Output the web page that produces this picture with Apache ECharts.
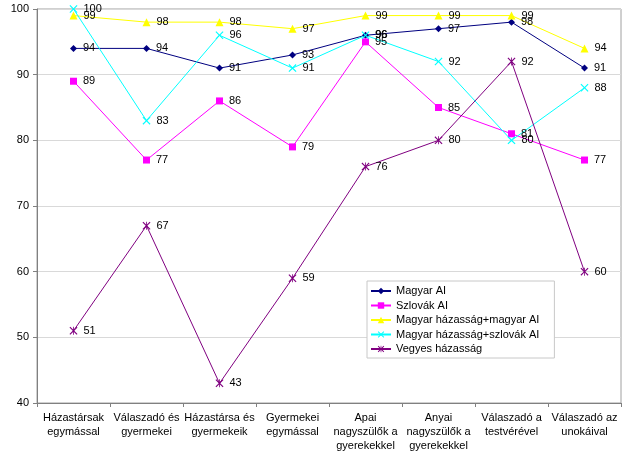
<!DOCTYPE html>
<html>
<head>
<meta charset="utf-8">
<script src="https://cdn.jsdelivr.net/npm/echarts@6/dist/echarts.min.js"></script>
<style>
html,body{margin:0;padding:0;background:#fff;}
#chart{width:640px;height:454px;}
</style>
</head>
<body>
<div id="chart"></div>
<script>
var categories = ["Házastársak\negymással", "Válaszadó és\ngyermekei", "Házastársa és\ngyermekeik", "Gyermekei\negymással", "Apai\nnagyszülők a\ngyerekekkel", "Anyai\nnagyszülők a\ngyerekekkel", "Válaszadó a\ntestvérével", "Válaszadó az\nunokáival"];
var seriesNames = ["Magyar AI", "Szlovák AI", "Magyar házasság+magyar AI", "Magyar házasság+szlovák AI", "Vegyes házasság"];
var magyarAI = [94, 94, 91, 93, 96, 97, 98, 91];
var szlovakAI = [89, 77, 86, 79, 95, 85, 81, 77];
var magyarHazMagyarAI = [99, 98, 98, 97, 99, 99, 99, 94];
var magyarHazSzlovakAI = [100, 83, 96, 91, 96, 92, 80, 88];
var vegyesHazassag = [51, 67, 43, 59, 76, 80, 92, 60];
var yTicks = {min: 40, max: 100, interval: 10};

var xPath = 'path://M0,1L1,0L5,4L9,0L10,1L6,5L10,9L9,10L5,6L1,10L0,9L4,5Z';
var starPath = 'path://M0,1L1,0L4.5,3.5L4.5,0L5.5,0L5.5,3.5L9,0L10,1L6,5L10,9L9,10L5.5,6.5L5.5,10L4.5,10L4.5,6.5L1,10L0,9L4,5Z';

var font = 'Liberation Sans, Arial, sans-serif';
function mk(name, data, color, symbol, size) {
  return {
    name: name, type: 'line', data: data,
    symbol: symbol, symbolSize: size,
    lineStyle: {color: color, width: 1},
    itemStyle: {color: color},
    label: {show: true, position: 'right', distance: 6, color: '#000', fontSize: 11, fontFamily: font},
    emphasis: {disabled: true},
    animation: false
  };
}
var chart = echarts.init(document.getElementById('chart'));
chart.setOption({
  backgroundColor: '#fff',
  animation: false,
  textStyle: {fontFamily: font},
  grid: {left: 37, right: 19, top: 9, bottom: 51, show: true, borderColor: '#a0a0a0', borderWidth: 1, containLabel: false},
  legend: {
    orient: 'vertical', left: 367, top: 281,
    itemGap: 2.5, itemWidth: 20, itemHeight: 8,
    padding: [4, 15, 3, 3],
    backgroundColor: '#fff', borderColor: '#c8c8c8', borderWidth: 1,
    textStyle: {fontSize: 11, lineHeight: 12, color: '#000', fontFamily: font},
    data: seriesNames
  },
  xAxis: {
    type: 'category', data: categories, boundaryGap: true,
    axisLine: {lineStyle: {color: '#808080'}},
    axisTick: {show: true, alignWithLabel: false, length: 4, lineStyle: {color: '#808080'}},
    axisLabel: {interval: 0, color: '#000', fontSize: 11, lineHeight: 14, margin: 8, fontFamily: font},
    splitLine: {show: false}
  },
  yAxis: {
    type: 'value', min: yTicks.min, max: yTicks.max, interval: yTicks.interval,
    axisLine: {show: true, lineStyle: {color: '#808080'}},
    axisTick: {show: true, length: 4, lineStyle: {color: '#808080'}},
    axisLabel: {color: '#000', fontSize: 11, margin: 8, fontFamily: font},
    splitLine: {show: true, lineStyle: {color: '#d9d9d9'}}
  },
  series: [
    mk(seriesNames[0], magyarAI, '#000080', 'diamond', 7),
    mk(seriesNames[1], szlovakAI, '#FF00FF', 'rect', 7),
    mk(seriesNames[2], magyarHazMagyarAI, '#FFFF00', 'triangle', 8),
    mk(seriesNames[3], magyarHazSzlovakAI, '#00FFFF', xPath, 8),
    mk(seriesNames[4], vegyesHazassag, '#800080', starPath, 8)
  ]
});
</script>
</body>
</html>
